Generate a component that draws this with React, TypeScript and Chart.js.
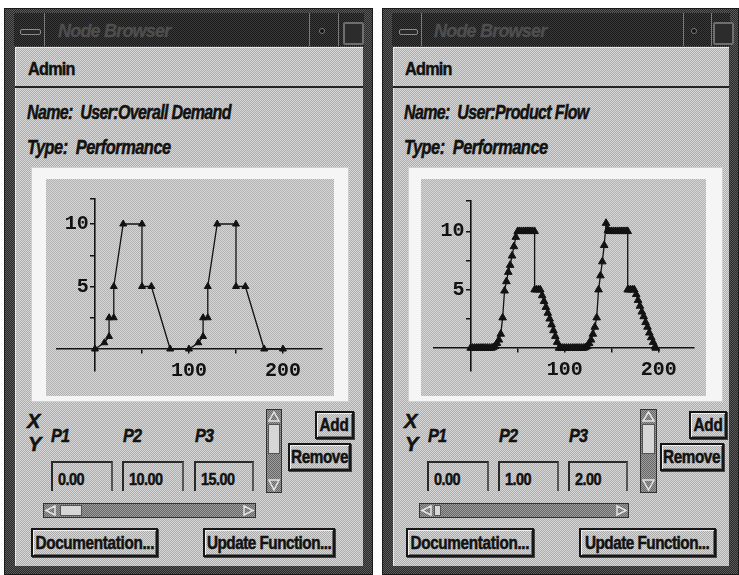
import React, { useEffect, useRef } from 'react';
import { Chart, registerables } from 'chart.js';

Chart.register(...registerables);

// ---------------- data ----------------
const demandX = [0, 10, 15, 15, 20, 20, 30, 50, 50, 60, 80, 100, 110, 115, 115, 120, 120, 130, 150, 150, 160, 180, 200];
const demandY = [0, 0.5, 1, 2.5, 2.5, 5, 10, 10, 5, 5, 0, 0, 0.5, 1, 2.5, 2.5, 5, 10, 10, 5, 5, 0, 0];

const flowX = [
  0, 2, 4, 6, 8, 10, 12, 14, 16, 18, 20, 22, 24, 26, 28, 30, 32, 34, 36, 38, 40, 42, 44, 46, 48,
  50, 52, 54, 56, 58, 60, 62, 64, 66, 68, 68, 70, 72, 74, 76, 78, 80, 82, 84, 86, 88, 90, 92, 94,
  96, 98, 100, 102, 104, 106, 108, 110, 112, 114, 116, 118, 120, 122, 124, 126, 128, 130, 132, 134,
  136, 138, 140, 142, 144, 146, 148, 150, 152, 154, 156, 158, 160, 162, 164, 166, 167, 167, 168, 170,
  172, 174, 176, 178, 180, 182, 184, 186, 188, 190, 192, 194, 196, 197,
];
const flowY = [
  0, 0, 0, 0, 0, 0, 0, 0, 0, 0, 0, 0, 0.05, 0.15, 0.4, 0.7, 1.2, 2.6, 4.9, 5.7, 6.5, 7.1, 7.9, 8.7, 9.5,
  10, 10, 10, 10, 10, 10, 10, 10, 10, 10, 5, 5, 5, 5, 4.5, 4.0, 3.5, 3.0, 2.5, 2.0, 1.5, 1.0, 0.5, 0,
  0, 0, 0, 0, 0, 0, 0, 0, 0, 0, 0, 0, 0, 0.05, 0.15, 0.4, 0.7, 1.2, 1.8, 2.6,
  5.0, 6.2, 7.4, 8.8, 10.7, 10.1, 10, 10, 10, 10, 10, 10, 10, 10, 10, 10, 10, 5, 5, 5,
  5, 5, 4.6, 4.1, 3.6, 3.1, 2.7, 2.2, 1.8, 1.3, 0.9, 0.5, 0.1, 0,
];

const xTickLabels = [100, 200];
const yTickLabels = [5, 10];
const xTickMarks = [50, 100, 150, 200];
const yTickMarks = [2.5, 5, 7.5, 10];

const windowTitle = 'Node Browser';
const menuLabel = 'Admin';
const nodeNames = ['User:Overall Demand', 'User:Product Flow'];
const nodeTypes = ['Performance', 'Performance'];
const paramLabels = ['P1', 'P2', 'P3'];
const demandParams = ['0.00', '10.00', '15.00'];
const flowParams = ['0.00', '1.00', '2.00'];
const buttonLabels = { add: 'Add', remove: 'Remove', doc: 'Documentation...', update: 'Update Function...' };

// ---------------- styles ----------------
const INK = '#121212';
const SANS = '"Liberation Sans", Arial, Helvetica, sans-serif';
const MONO = '"Liberation Mono", "DejaVu Sans Mono", monospace';
const WIN_TOP = 8;
const ry = (y: number) => y - WIN_TOP;

function tex(a: string, b: string): React.CSSProperties {
  return {
    backgroundColor: b,
    backgroundImage: `repeating-conic-gradient(${a} 0% 25%, ${b} 0% 50%)`,
    backgroundSize: '2px 2px',
  };
}
const FRAME = tex('#2a2a2a', '#5a5a5a');
const TITLE = tex('#1a1a1a', '#3a3a3a');
const BODY = tex('#acacac', '#d8d8d8');
const TROUGH = tex('#666666', '#9e9e9e');

function makePattern(a: string, b: string) {
  const c = document.createElement('canvas');
  c.width = 2;
  c.height = 2;
  const g = c.getContext('2d')!;
  g.fillStyle = b;
  g.fillRect(0, 0, 2, 2);
  g.fillStyle = a;
  g.fillRect(1, 0, 1, 1);
  g.fillRect(0, 1, 1, 1);
  return g.createPattern(c, 'repeat');
}

// ---------------- chart ----------------
type PlotProps = {
  xs: number[]; ys: number[]; w: number; h: number;
  pad: { left: number; right: number; top: number; bottom: number };
  xMin: number; xMax: number; yMin: number; yMax: number; radius: number; labelGap: number;
};

function PlotChart(p: PlotProps) {
  const ref = useRef<HTMLCanvasElement>(null);
  useEffect(() => {
    const canvas = ref.current;
    if (!canvas) return;
    const pattern = makePattern('#b2b2b2', '#d6d6d6');
    const bgPlugin = {
      id: 'bgfill',
      beforeDraw(chart: any) {
        const { ctx, width, height } = chart;
        ctx.save();
        ctx.fillStyle = pattern as any;
        ctx.fillRect(0, 0, width, height);
        ctx.restore();
      },
    };
    const points = p.xs.map((x, i) => ({ x, y: p.ys[i] }));
    const tickFont = { family: MONO, size: 20, weight: 'bold' as const };
    const hidden = 'rgba(0,0,0,0)';
    const chart = new Chart(canvas, {
      type: 'scatter',
      data: {
        datasets: [
          {
            data: points,
            showLine: true,
            borderColor: INK,
            borderWidth: 1.3,
            pointStyle: 'triangle',
            pointRadius: p.radius,
            pointBackgroundColor: INK,
            pointBorderColor: INK,
            pointBorderWidth: 1,
            xAxisID: 'x',
            yAxisID: 'y',
          } as any,
        ],
      },
      options: {
        animation: false,
        responsive: false,
        maintainAspectRatio: false,
        devicePixelRatio: 1,
        events: [],
        layout: { padding: p.pad },
        plugins: { legend: { display: false }, tooltip: { enabled: false } },
        scales: {
          x: {
            type: 'linear',
            min: p.xMin,
            max: p.xMax,
            position: { y: 0 } as any,
            afterFit: (s: any) => { s.height = 0; },
            grid: {
              drawOnChartArea: false,
              drawTicks: true,
              tickLength: 4,
              lineWidth: 1.5,
              color: (ctx: any) => (ctx.tick && xTickMarks.includes(ctx.tick.value) ? INK : hidden),
            },
            border: { display: true, color: INK, width: 1.6 },
            ticks: {
              stepSize: 50,
              includeBounds: false,
              autoSkip: false,
              maxRotation: 0,
              minRotation: 0,
              padding: 6,
              color: INK,
              font: tickFont,
              callback: (v: any) => (xTickLabels.includes(Number(v)) ? String(v) : ''),
            },
          },
          y: {
            type: 'linear',
            min: p.yMin,
            max: p.yMax,
            position: { x: 0 } as any,
            afterFit: (s: any) => { s.width = 0; },
            grid: {
              drawOnChartArea: false,
              drawTicks: true,
              tickLength: 4,
              lineWidth: 1.5,
              color: (ctx: any) =>
                ctx.tick && (yTickMarks.includes(ctx.tick.value) || ctx.tick.value === p.yMax) ? INK : hidden,
            },
            border: { display: true, color: INK, width: 1.6 },
            ticks: {
              stepSize: 2.5,
              autoSkip: false,
              color: INK,
              font: tickFont,
              callback: () => '',
            },
          },
          yLabels: {
            type: 'linear',
            axis: 'y',
            min: p.yMin,
            max: p.yMax,
            position: { x: -p.labelGap } as any,
            afterFit: (s: any) => { s.width = 0; },
            grid: { display: false, drawOnChartArea: false, drawTicks: false },
            border: { display: false },
            ticks: {
              stepSize: 2.5,
              autoSkip: false,
              color: INK,
              font: tickFont,
              callback: (v: any) => (yTickLabels.includes(Number(v)) ? String(v) : ''),
            },
          },
        },
      } as any,
      plugins: [bgPlugin],
    });
    return () => chart.destroy();
  }, []);
  return (
    <canvas
      ref={ref}
      width={p.w}
      height={p.h}
      style={{ position: 'absolute', left: 0, top: 0, width: p.w, height: p.h, display: 'block' }}
    />
  );
}

// ---------------- GUI pieces ----------------
function Txt(props: {
  x: number; cy: number; size: number; bold?: boolean; italic?: boolean; ls?: number; sx?: number;
  color?: string; family?: string; stroke?: number; children: React.ReactNode;
}) {
  const lh = Math.round(props.size * 1.2);
  const color = props.color || INK;
  return (
    <div
      style={{
        position: 'absolute',
        left: props.x,
        top: props.cy - lh / 2,
        height: lh,
        lineHeight: `${lh}px`,
        fontSize: props.size,
        fontFamily: props.family || SANS,
        fontWeight: props.bold ? 700 : 400,
        fontStyle: props.italic ? 'italic' : 'normal',
        letterSpacing: props.ls ?? 0,
        color,
        WebkitTextStroke: props.bold ? `${props.stroke ?? 0.5}px ${color}` : undefined,
        whiteSpace: 'pre',
        transform: props.sx ? `scaleX(${props.sx})` : undefined,
        transformOrigin: 'left center',
      }}
    >
      {props.children}
    </div>
  );
}

function Btn(props: { x: number; w: number; y0: number; y1: number; label: string; ls: number }) {
  return (
    <div
      style={{
        position: 'absolute',
        left: props.x,
        top: ry(props.y0),
        width: props.w,
        height: props.y1 - props.y0,
        boxSizing: 'border-box',
        border: '2px solid #161616',
        boxShadow: 'inset 1px 1px 0 #efefef, inset -1px -1px 0 #6a6a6a, 1px 1px 0 #444',
        ...BODY,
        display: 'flex',
        alignItems: 'center',
        justifyContent: 'center',
        overflow: 'visible',
      }}
    >
      <span
        style={{
          display: 'inline-block',
          fontFamily: SANS,
          fontWeight: 700,
          fontSize: 18,
          lineHeight: '20px',
          letterSpacing: props.ls,
          color: INK,
          WebkitTextStroke: `0.5px ${INK}`,
          whiteSpace: 'pre',
          transform: 'scaleX(0.85)',
          transformOrigin: 'center center',
        }}
      >
        {props.label}
      </span>
    </div>
  );
}

type Cfg = {
  L: number; W: number; sep: number[]; titleX: number; dotX: number; maxX: number; glyph: number[];
  textX: number; panel: number[]; plot: number[]; xyX: number; pX: number[]; boxes: number[][];
  vscroll: number[]; add: number[]; remove: number[]; hscroll: number[]; hthumb: number[];
  doc: number[]; update: number[];
};

function NodeWindow(props: { cfg: Cfg; name: string; type: string; params: string[]; plot: PlotProps }) {
  const c = props.cfg;
  const H = 575 - WIN_TOP;
  return (
    <div style={{ position: 'absolute', left: c.L, top: WIN_TOP, width: c.W, height: H, ...FRAME, boxSizing: 'border-box', border: '1px solid #1a1a1a' }}>
      {/* title bar */}
      <div style={{ position: 'absolute', left: 9, top: 4, width: c.W - 19, height: 33, ...TITLE }} />
      {c.sep.map((sx, i) => (
        <div key={i} style={{ position: 'absolute', left: sx, top: 4, width: 1, height: 33, background: '#7a7a7a' }} />
      ))}
      <div style={{ position: 'absolute', left: c.glyph[0], top: 20, width: c.glyph[1] - c.glyph[0], height: 4, border: '1px solid #8c8c8c', borderRadius: 2, background: '#2a2a2a' }} />
      <Txt x={c.titleX} cy={22} size={18} italic bold ls={-0.8} stroke={0.3} color="#4e4e4e">{windowTitle}</Txt>
      <div style={{ position: 'absolute', left: c.dotX, top: 19, width: 4, height: 4, borderRadius: 3, background: '#111', border: '1px solid #7a7a7a' }} />
      <div style={{ position: 'absolute', left: c.maxX, top: 13, width: 17, height: 19, border: '2px solid #6e6e6e', borderRadius: 2, background: '#2c2c2c' }} />

      {/* content area */}
      <div style={{ position: 'absolute', left: 10, top: 38, width: c.W - 21, height: 557 - 38, ...BODY, boxShadow: 'inset 1px 1px 0 #e8e8e8' }} />
      <div style={{ position: 'absolute', left: 10, top: ry(85), width: c.W - 21, height: 2, background: '#222' }} />

      <Txt x={c.textX + 1} cy={ry(68)} size={18} bold ls={-0.8} sx={0.9}>{menuLabel}</Txt>
      <Txt x={c.textX} cy={ry(111)} size={20} bold italic ls={-0.8} sx={0.8}>{'Name:  ' + props.name}</Txt>
      <Txt x={c.textX} cy={ry(146)} size={20} bold italic ls={-0.6} sx={0.82}>{'Type:  ' + props.type}</Txt>

      {/* plot panel */}
      <div style={{ position: 'absolute', left: c.panel[0], top: ry(166), width: c.panel[1], height: 401 - 166, background: '#f5f5f5', boxShadow: 'inset 0 0 0 1px #cfcfcf' }}>
        <div style={{ position: 'absolute', left: c.plot[0] - c.panel[0], top: 12, width: c.plot[1], height: 217 }}>
          <PlotChart {...props.plot} />
        </div>
      </div>

      {/* parameter area */}
      <Txt x={c.xyX} cy={ry(420)} size={20} bold italic>X</Txt>
      <Txt x={c.xyX + 1} cy={ry(443)} size={20} bold italic>Y</Txt>
      {paramLabels.map((pl, i) => (
        <Txt key={pl} x={c.pX[i]} cy={ry(435)} size={18} bold italic ls={-1} sx={0.9}>{pl}</Txt>
      ))}
      {c.boxes.map((b, i) => (
        <div
          key={i}
          style={{
            position: 'absolute', left: b[0], top: ry(460), width: b[1], height: 30, boxSizing: 'border-box',
            borderTop: '2px solid #2a2a2a', borderLeft: '2px solid #2a2a2a', borderRight: '2px solid #555',
          }}
        >
          <Txt x={5} cy={17} size={17} bold ls={-0.6} sx={0.85}>{props.params[i]}</Txt>
        </div>
      ))}

      {/* vertical scrollbar */}
      <div style={{ position: 'absolute', left: c.vscroll[0], top: ry(408), width: c.vscroll[1], height: 84, boxSizing: 'border-box', border: '1px solid #333', ...TROUGH }}>
        <svg width={c.vscroll[1] - 2} height={82} style={{ position: 'absolute', left: 0, top: 0 }}>
          <polygon points={`${(c.vscroll[1] - 2) / 2},2 ${c.vscroll[1] - 4},11 2,11`} fill="none" stroke="#e4e4e4" strokeWidth={1.5} />
          <polygon points={`2,70 ${c.vscroll[1] - 4},70 ${(c.vscroll[1] - 2) / 2},80`} fill="none" stroke="#e4e4e4" strokeWidth={1.5} />
        </svg>
        <div style={{ position: 'absolute', left: 1, top: 14, width: c.vscroll[1] - 4, height: 30, background: '#d6d6d6', border: '1px solid #555', boxSizing: 'border-box' }} />
      </div>

      <Btn x={c.add[0]} w={c.add[1]} y0={410} y1={438} label={buttonLabels.add} ls={-0.3} />
      <Btn x={c.remove[0]} w={c.remove[1]} y0={442} y1={470} label={buttonLabels.remove} ls={-0.5} />

      {/* horizontal scrollbar */}
      <div style={{ position: 'absolute', left: c.hscroll[0], top: ry(502), width: c.hscroll[1], height: 15, boxSizing: 'border-box', border: '1px solid #333', ...TROUGH }}>
        <svg width={c.hscroll[1] - 2} height={13} style={{ position: 'absolute', left: 0, top: 0 }}>
          <polygon points="2,6.5 11,2 11,11" fill="none" stroke="#e4e4e4" strokeWidth={1.5} />
          <polygon points={`${c.hscroll[1] - 13},2 ${c.hscroll[1] - 4},6.5 ${c.hscroll[1] - 13},11`} fill="none" stroke="#e4e4e4" strokeWidth={1.5} />
        </svg>
        <div style={{ position: 'absolute', left: c.hthumb[0], top: 1, width: c.hthumb[1], height: 11, background: '#d6d6d6', border: '1px solid #555', boxSizing: 'border-box' }} />
      </div>

      <Btn x={c.doc[0]} w={c.doc[1]} y0={527} y1={556} label={buttonLabels.doc} ls={-0.4} />
      <Btn x={c.update[0]} w={c.update[1]} y0={527} y1={556} label={buttonLabels.update} ls={-0.6} />
    </div>
  );
}

const leftCfg: Cfg = {
  L: 4, W: 369, sep: [39, 304, 333], titleX: 53, dotX: 314, maxX: 338, glyph: [15, 34],
  textX: 22, panel: [26, 318], plot: [41, 288], xyX: 22, pX: [46, 118, 190],
  boxes: [[46, 62], [117, 62], [189, 60]], vscroll: [261, 16], add: [310, 39], remove: [283, 63],
  hscroll: [38, 213], hthumb: [16, 22], doc: [26, 127], update: [198, 132],
};
const rightCfg: Cfg = {
  L: 382, W: 357, sep: [38, 300, 328], titleX: 51, dotX: 308, maxX: 330, glyph: [16, 33],
  textX: 21, panel: [25, 315], plot: [38, 285], xyX: 21, pX: [45, 116, 186],
  boxes: [[44, 62], [115, 61], [185, 60]], vscroll: [257, 17], add: [306, 38], remove: [277, 64],
  hscroll: [36, 210], hthumb: [14, 7], doc: [23, 128], update: [196, 137],
};

const leftPlot: PlotProps = {
  xs: demandX, ys: demandY, w: 288, h: 217, pad: { left: 11, right: 12, top: 20, bottom: 25 },
  xMin: -40.4, xMax: 241.5, yMin: -1.76, yMax: 12, radius: 4, labelGap: 6.5,
};
const rightPlot: PlotProps = {
  xs: flowX, ys: flowY, w: 285, h: 217, pad: { left: 13, right: 12, top: 22, bottom: 25 },
  xMin: -39, xMax: 237.5, yMin: -1.97, yMax: 12.6, radius: 4.4, labelGap: 6.5,
};

export default function App() {
  return (
    <div style={{ position: 'fixed', left: 0, top: 0, width: 739, height: 575, background: '#ffffff', overflow: 'hidden' }}>
      <NodeWindow cfg={leftCfg} name={nodeNames[0]} type={nodeTypes[0]} params={demandParams} plot={leftPlot} />
      <NodeWindow cfg={rightCfg} name={nodeNames[1]} type={nodeTypes[1]} params={flowParams} plot={rightPlot} />
    </div>
  );
}
